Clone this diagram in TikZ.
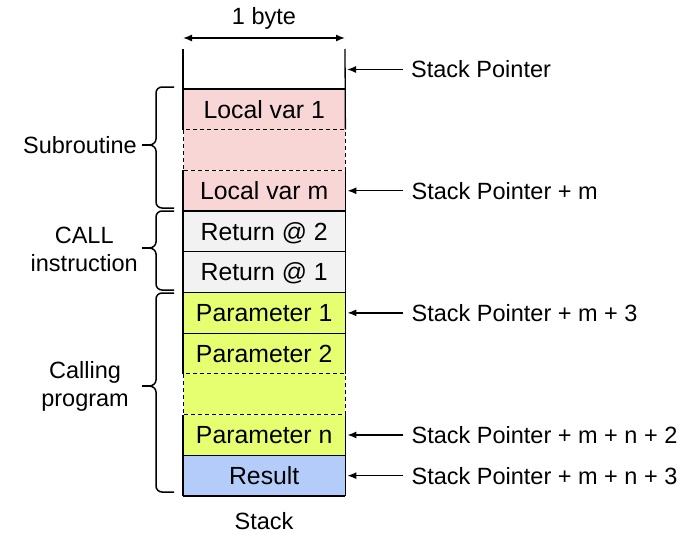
\documentclass[tikz,border=0pt]{standalone}
\usepackage{fontspec}
\setmainfont{Liberation Sans}
\usetikzlibrary{arrows.meta}
\definecolor{pinkfill}{RGB}{248,214,214}
\definecolor{grayfill}{RGB}{242,242,242}
\definecolor{yellowfill}{RGB}{230,255,112}
\definecolor{bluefill}{RGB}{180,204,250}
\newcommand\stackbrace[3]{%
  \draw[brc] (174,#1) -- (162,#1) to[out=180,in=90] (156,#1+6) -- (156,#2-6)
    to[out=-90,in=0] (149,#2) to[out=0,in=90] (156,#2+6) -- (156,#3-6)
    to[out=-90,in=180] (162,#3) -- (174,#3);
  \draw[brc] (142,#2) -- (149,#2);
}
\begin{document}
\begin{tikzpicture}[x=1pt,y=-1pt,
  every node/.style={font=\fontsize{23.5}{28}\selectfont},
  cell/.style={minimum width=162pt, minimum height=40.3pt, inner sep=0pt, font=\fontsize{24.8}{28}\selectfont, text height=17.6pt, text depth=0pt, anchor=north west},
  ptr/.style={anchor=west, inner sep=0pt, text height=16.8pt, text depth=0pt},
  tip/.style={-{Latex[length=9pt,width=7pt]}, line width=1.4pt},
  brc/.style={line width=1.5pt},
  edge/.style={line width=1.3pt},
  dashline/.style={line width=1pt, dash pattern=on 4pt off 3pt}]
\useasboundingbox (0,0) rectangle (700,546);
% cells
\node[cell, fill=pinkfill] (r1) at (183,89) {Local var 1};
\node[cell, fill=pinkfill] (r2) at (r1.south west) {};
\node[cell, fill=pinkfill] (r3) at (r2.south west) {Local var m};
\node[cell, fill=grayfill] (r4) at (r3.south west) {Return @ 2};
\node[cell, fill=grayfill] (r5) at (r4.south west) {Return @ 1};
\node[cell, fill=yellowfill] (r6) at (r5.south west) {Parameter 1};
\node[cell, fill=yellowfill] (r7) at (r6.south west) {Parameter 2};
\node[cell, fill=yellowfill] (r8) at (r7.south west) {};
\node[cell, fill=yellowfill] (r9) at (r8.south west) {Parameter n};
\node[cell, fill=bluefill] (r10) at (r9.south west) {Result};
% top open part
\coordinate (tl) at (183,49);
\coordinate (tr) at (345,49);
\draw[edge] (tl) -- (r1.south west);
\draw[edge] (tr) -- (r1.south east);
\draw[edge] (r1.north west) -- (r1.north east);
% solid parts
\draw[edge] (r3.north west) -- (r7.south west);
\draw[edge] (r3.north east) -- (r7.south east);
\draw[edge] (r9.north west) -- (r10.south west);
\draw[edge] (r9.north east) -- (r10.south east);
\foreach \r in {r3,r4,r5,r6,r9,r10}{
  \draw[edge] (\r.south west) -- (\r.south east);
}
% dashed parts
\foreach \r in {r2,r8}{
  \draw[edge, white] (\r.north west) -- (\r.south west);
  \draw[edge, white] (\r.north east) -- (\r.south east);
  \draw[dashline] (\r.north west) rectangle (\r.south east);
}
% width arrow
\coordinate (wa) at (183,38);
\coordinate (wb) at (345,38);
\draw[{Latex[length=9pt,width=7pt]}-{Latex[length=9pt,width=7pt]}, line width=1.4pt] (wa) -- (wb);
\node (byte) at (264,18) {1 byte};
\node (stk) at (264,521) {Stack};
% pointers
\coordinate (sp) at (345,69.5);
\node[ptr, xshift=66pt] (p0) at (sp) {Stack Pointer};
\node[ptr, xshift=66pt] (p1) at (r3.east) {Stack Pointer + m};
\node[ptr, xshift=66pt] (p2) at (r6.east) {Stack Pointer + m + 3};
\node[ptr, xshift=66pt] (p3) at (r9.east) {Stack Pointer + m + n + 2};
\node[ptr, xshift=66pt] (p4) at (r10.east) {Stack Pointer + m + n + 3};
\draw[tip] ([xshift=-8pt]p0.west) -- ([xshift=2pt]sp);
\draw[tip] ([xshift=-8pt]p1.west) -- ([xshift=2pt]r3.east);
\draw[tip] ([xshift=-8pt]p2.west) -- ([xshift=2pt]r6.east);
\draw[tip] ([xshift=-8pt]p3.west) -- ([xshift=2pt]r9.east);
\draw[tip] ([xshift=-8pt]p4.west) -- ([xshift=2pt]r10.east);
% braces
\stackbrace{87}{145}{208}
\stackbrace{211}{248}{290}
\stackbrace{293}{386}{492}
\node[anchor=east, inner sep=0pt, text height=16.8pt, text depth=0pt] (lsub) at (137,145) {Subroutine};
\node[anchor=east, inner sep=0pt, align=center] (lcall) at (138,249) {CALL\\instruction};
\node[anchor=east, inner sep=0pt, align=center] (lcp) at (129,386) {Calling\\program};
\end{tikzpicture}
\end{document}
